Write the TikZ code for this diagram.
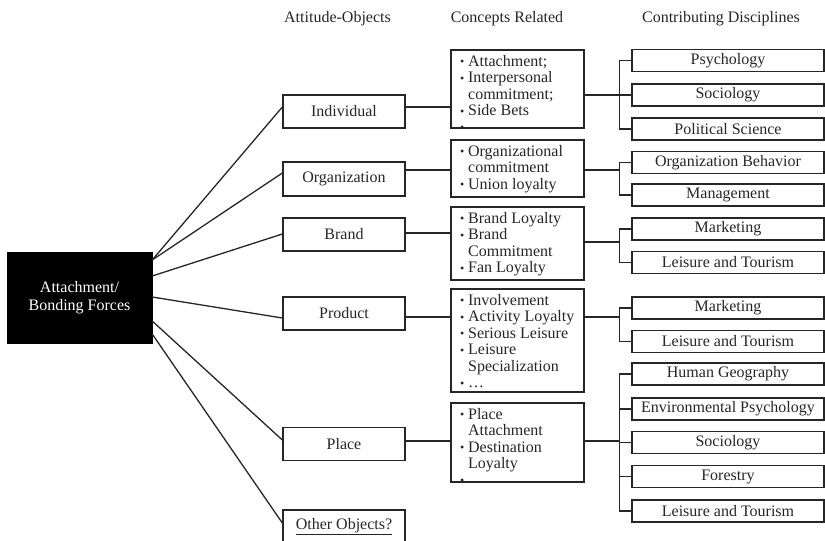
\documentclass[tikz,border=0pt]{standalone}
\usepackage{fontspec}
\setmainfont{Liberation Serif}
\newcommand\myitem{\makebox[8pt][l]{\raisebox{0.5pt}{\fontsize{12}{12}\selectfont\textbullet}}}
\newcommand\myindent{\hspace*{8pt}}
\newcommand\ctext[1]{\parbox[t]{128pt}{\raggedright\fontsize{16}{16.5}\selectfont #1}}
\begin{document}
\begin{tikzpicture}[x=1pt,y=-1pt,
  ln/.style={line width=1.3pt, draw=black!85},
  txt/.style={text=black!85, font=\fontsize{16}{18}\selectfont},
  abox/.style={ln, txt, rectangle, minimum width=122pt, minimum height=33pt, inner sep=0pt},
  dbox/.style={ln, txt, rectangle, minimum width=192pt, minimum height=22pt, inner sep=0pt},
  cbox/.style={ln, rectangle, minimum width=133pt, inner sep=0pt},
  cpic/.style={path picture={\node[anchor=base west, inner sep=0pt, text=black!85] at ([xshift=6pt,yshift=-16pt]path picture bounding box.north west) {\ctext{#1}};}},
  hdr/.style={txt, inner sep=0pt},
  conn/.style={ln}
]
\useasboundingbox (0,0) rectangle (825,541);

% headers
\node[hdr] (h1) at (337.5,19) {Attitude-Objects};
\node[hdr] (h2) at (507,19) {Concepts Related};
\node[hdr] (h3) at (721,19) {Contributing Disciplines};

% centre
\node[fill=black, draw=black, minimum width=145pt, minimum height=91pt, inner sep=0pt,
      text=white, font=\fontsize{16}{18}\selectfont] (ctr) at (79.5,297.5)
      {\raisebox{5pt}{\parbox{140pt}{\centering Attachment/\\Bonding Forces}}};

% attitude objects
\node[abox] (ind) at (344,111.5) {Individual};
\node[abox, minimum height=34pt] (org) at (344,179) {Organization};
\node[abox] (brand) at (344,234.5) {Brand};
\node[abox] (prod) at (344,313.5) {Product};
\node[abox] (place) at (344,444) {Place};
\node[abox, minimum height=34pt] (other) at (344,527) {\underline{Other Objects?}};

% concepts
\node[cbox, minimum height=78pt, cpic={\myitem Attachment;\\\myitem Interpersonal\\\myindent commitment;\\\myitem Side Bets\\\myitem}] (c1) at (517.5,89) {};
\node[cbox, minimum height=57pt, cpic={\myitem Organizational\\\myindent commitment\\\myitem Union loyalty}] (c2) at (517.5,168.5) {};
\node[cbox, minimum height=73pt, cpic={\myitem Brand Loyalty\\\myitem Brand\\\myindent Commitment\\\myitem Fan Loyalty}] (c3) at (517.5,243.5) {};
\node[cbox, minimum height=103pt, cpic={\myitem Involvement\\\myitem Activity Loyalty\\\myitem Serious Leisure\\\myitem Leisure\\\myindent Specialization\\\myitem\ldots}] (c4) at (517.5,340.5) {};
\node[cbox, minimum height=79pt, cpic={\myitem Place\\\myindent Attachment\\\myitem Destination\\\myindent Loyalty\\\myitem}] (c5) at (517.5,442.5) {};

% disciplines
\node[dbox] (d1) at (728,60.5) {Psychology};
\node[dbox] (d2) at (728,95) {Sociology};
\node[dbox] (d3) at (728,129) {Political Science};
\node[dbox] (d4) at (728,162.5) {Organization Behavior};
\node[dbox] (d5) at (728,195) {Management};
\node[dbox] (d6) at (728,229) {Marketing};
\node[dbox] (d7) at (728,262.5) {Leisure and Tourism};
\node[dbox] (d8) at (728,308) {Marketing};
\node[dbox] (d9) at (728,341.5) {Leisure and Tourism};
\node[dbox] (d10) at (728,374) {Human Geography};
\node[dbox] (d11) at (728,409) {Environmental Psychology};
\node[dbox] (d12) at (728,442.5) {Sociology};
\node[dbox] (d13) at (728,476.5) {Forestry};
\node[dbox] (d14) at (728,511) {Leisure and Tourism};

% centre to attitude objects
\draw[conn] (ctr.east |- 0,260) -- (ind.west |- 0,107);
\draw[conn] (ctr.east |- 0,260) -- (org.west |- 0,173);
\draw[conn] (ctr.east |- 0,276) -- (brand.west |- 0,234);
\draw[conn] (ctr.east |- 0,297) -- (prod.west |- 0,318);
\draw[conn] (ctr.east |- 0,321) -- (place.west |- 0,440);
\draw[conn] (ctr.east |- 0,334) -- (other.west |- 0,523);

% attitude objects to concepts
\coordinate (k1) at (428,107);
\coordinate (k2) at (428,170);
\coordinate (k3) at (428,233);
\coordinate (k4) at (428,317);
\coordinate (k5) at (428,441);
\draw[conn] (ind.east |- k1) -- (c1.west |- k1);
\draw[conn] (org.east |- k2) -- (c2.west |- k2);
\draw[conn] (brand.east |- k3) -- (c3.west |- k3);
\draw[conn] (prod.east |- k4) -- (c4.west |- k4);
\draw[conn] (place.east |- k5) -- (c5.west |- k5);

% concepts to bracket joints
\coordinate (j1) at (620,95);
\coordinate (j2) at (620,170);
\coordinate (j3) at (620,242);
\coordinate (j4) at (620,317);
\coordinate (j5) at (620,441);
\draw[conn] (c1.east |- j1) -- (j1);
\draw[conn] (c2.east |- j2) -- (j2);
\draw[conn] (c3.east |- j3) -- (j3);
\draw[conn] (c4.east |- j4) -- (j4);
\draw[conn] (c5.east |- j5) -- (j5);

% brackets
\draw[conn] (d1.west) -- ++(-12,0) |- (d3.west);
\draw[conn] (d2.west) -- ++(-12,0);
\draw[conn] (d4.west) -- ++(-12,0) |- (d5.west);
\draw[conn] (d6.west) -- ++(-12,0) |- (d7.west);
\draw[conn] (d8.west) -- ++(-12,0) |- (d9.west);
\draw[conn] (d10.west) -- ++(-12,0) |- (d14.west);
\draw[conn] (d11.west) -- ++(-12,0);
\draw[conn] (d12.west) -- ++(-12,0);
\draw[conn] (d13.west) -- ++(-12,0);
\end{tikzpicture}
\end{document}
